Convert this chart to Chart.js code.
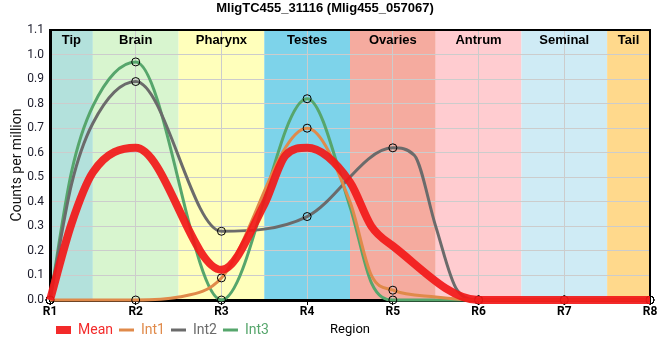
<!DOCTYPE html>
<html><head><meta charset="utf-8">
<script src="https://cdn.jsdelivr.net/npm/chart.js@4/dist/chart.umd.min.js"></script>
<style>html,body{margin:0;padding:0;background:#fff}#wrap{width:660px;height:360px}</style>
</head><body><div id="wrap"><canvas id="c" width="660" height="360"></canvas></div>
<script>
const chartTitle = 'MligTC455_31116 (Mlig455_057067)';
const xTickLabels = ['R1','R2','R3','R4','R5','R6','R7','R8'];
const regionNames = ['Tip','Brain','Pharynx','Testes','Ovaries','Antrum','Seminal','Tail'];
const regionColors = ['#b3e1dc','#d8f5cf','#ffffbb','#7dd3ea','#f5ab9f','#ffccd0','#cfebf5','#ffd98c'];
const seriesNames = ['Mean','Int1','Int2','Int3'];

const meanX = [1,1.25,1.5,2,3,3.5,3.75,4,4.5,4.75,5,6,7,8];
const meanY = [0,0.31,0.52,0.62,0.123,0.39,0.59,0.62,0.48,0.30,0.22,0,0,0];

const int1X = [1,2,2.5,3,4,4.5,4.75,5,5.5,6,7,8];
const int1Y = [0,0,0.012,0.09,0.70,0.40,0.10,0.04,0.012,0,0,0];

const int2X = [1,1.25,1.5,2,3,4,5,5.25,5.5,5.75,6,7,8];
const int2Y = [0,0.47,0.72,0.89,0.28,0.34,0.62,0.59,0.30,0.04,0,0,0];

const int3X = [1,1.25,1.5,2,3,4,4.5,4.75,5,6,7,8];
const int3Y = [0,0.52,0.79,0.97,0,0.82,0.38,0.07,0,0,0,0];

const seriesColors = ['rgba(242,24,24,0.92)','#e08a4a','#6b6b6b','#56a66c'];

function pts(xs, ys){ return xs.map((x,i)=>({x:x, y:ys[i]})); }
const markerRadius = ctx => (ctx.raw && Number.isInteger(ctx.raw.x)) ? 4 : 0;

const bandPlugin = {
  id: 'bands',
  beforeDraw(chart) {
    const {ctx, chartArea: a, scales: {x}} = chart;
    ctx.save();
    regionNames.forEach((name, i) => {
      const s = Math.max(1, i + 0.5), e = Math.min(8, i + 1.5);
      const x0 = x.getPixelForValue(s), x1 = x.getPixelForValue(e);
      ctx.fillStyle = regionColors[i];
      ctx.fillRect(x0, a.top, x1 - x0, a.bottom - a.top);
    });
    ctx.restore();
  },
  beforeDatasetsDraw(chart) {
    const {ctx, chartArea: a, scales: {x}} = chart;
    ctx.save();
    ctx.font = 'bold 13px "Liberation Sans", Arial, sans-serif';
    ctx.fillStyle = '#000';
    ctx.textAlign = 'center';
    ctx.textBaseline = 'alphabetic';
    regionNames.forEach((name, i) => {
      const s = Math.max(1, i + 0.5), e = Math.min(8, i + 1.5);
      const cx = (x.getPixelForValue(s) + x.getPixelForValue(e)) / 2;
      ctx.fillText(name, cx, a.top + 14);
    });
    ctx.strokeStyle = '#000';
    ctx.lineWidth = 2;
    ctx.beginPath();
    ctx.moveTo(a.left, a.top);
    ctx.lineTo(a.right, a.top);
    ctx.lineTo(a.right, a.bottom);
    ctx.stroke();
    ctx.restore();
  },
  afterDraw(chart) {
    const {ctx, chartArea: a, legend} = chart;
    ctx.save();
    ctx.font = '13px Roboto, "Liberation Sans", sans-serif';
    ctx.fillStyle = '#000';
    ctx.textAlign = 'center';
    ctx.textBaseline = 'middle';
    ctx.fillText('Region', (a.left + a.right) / 2, legend.top + 13);
    ctx.restore();
  }
};

const mk = (i, xs, ys, w, markers) => ({
  label: seriesNames[i],
  data: pts(xs, ys),
  borderColor: seriesColors[i],
  backgroundColor: seriesColors[i],
  borderWidth: w,
  cubicInterpolationMode: 'monotone',
  fill: false,
  clip: false,
  pointRadius: markers ? markerRadius : 0,
  pointHoverRadius: 0,
  pointBorderColor: '#000',
  pointBackgroundColor: 'rgba(0,0,0,0)',
  pointBorderWidth: 1
});

new Chart(document.getElementById('c'), {
  type: 'line',
  data: {
    datasets: [
      mk(0, meanX, meanY, 8, false),
      mk(1, int1X, int1Y, 3, true),
      mk(2, int2X, int2Y, 3, true),
      mk(3, int3X, int3Y, 3, true)
    ]
  },
  options: {
    responsive: false,
    animation: false,
    devicePixelRatio: 1,
    events: [],
    layout: { padding: { left: 0, right: 10, top: 0, bottom: 13 } },
    plugins: {
      title: {
        display: true, text: chartTitle, color: '#000',
        font: { family: '"Liberation Sans", Arial, sans-serif', size: 13, weight: 'bold' },
        padding: { top: 1, bottom: 13.4 }
      },
      legend: {
        position: 'bottom', align: 'start', fullSize: false,
        labels: {
          usePointStyle: true, pointStyle: 'line', pointStyleWidth: 15, padding: 6,
          font: { family: 'Roboto, "Liberation Sans", sans-serif', size: 14 },
          generateLabels(chart) {
            const items = Chart.defaults.plugins.legend.labels.generateLabels(chart);
            items.forEach(it => {
              const ds = chart.data.datasets[it.datasetIndex];
              it.fontColor = ds.borderColor;
              it.strokeStyle = ds.borderColor;
              it.lineWidth = ds.borderWidth;
              it.pointStyle = 'line';
            });
            return items;
          }
        }
      },
      tooltip: { enabled: false }
    },
    scales: {
      x: {
        type: 'linear', min: 1, max: 8,
        ticks: {
          stepSize: 1, autoSkip: false, maxRotation: 0, padding: 0, color: '#000',
          font: { family: 'Roboto, "Liberation Sans", sans-serif', size: 12, weight: 'bold' },
          callback: v => xTickLabels[Math.round(v) - 1]
        },
        grid: { color: '#cccccc', tickLength: 5, tickColor: '#000' },
        border: { color: '#000', width: 3 },
        afterFit(s) { s.height = 17; }
      },
      y: {
        min: 0, max: 1.1,
        ticks: {
          stepSize: 0.1, padding: 6, color: '#1a1a2a',
          font: { family: 'Roboto, "Liberation Sans", sans-serif', size: 12 },
          callback: v => Number(v).toFixed(1)
        },
        grid: { color: '#cccccc', drawTicks: false },
        border: { color: '#000', width: 3 },
        title: {
          display: true, text: 'Counts per million', color: '#111',
          font: { family: 'Roboto, "Liberation Sans", sans-serif', size: 14 },
          padding: { top: 9, bottom: 0 }
        },
        afterFit(s) { s.width = 50; }
      }
    }
  },
  plugins: [bandPlugin]
});
</script></body></html>
